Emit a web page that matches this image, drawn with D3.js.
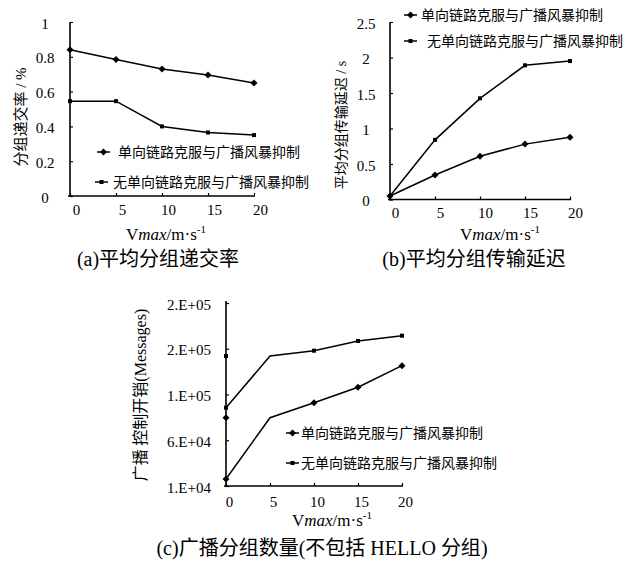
<!DOCTYPE html>
<html><head><meta charset="utf-8">
<script src="https://cdn.jsdelivr.net/npm/d3@7/dist/d3.min.js"></script>
<style>
body{margin:0;background:#fff;}
text{fill:#000;}
</style></head>
<body><svg id="c" width="634" height="565"></svg>
<script>
// ---- data ----
const xVals = [0, 5, 10, 15, 20];
const xTickLabels = ["0", "5", "10", "15", "20"];
const seriesNames = ["单向链路克服与广播风暴抑制", "无单向链路克服与广播风暴抑制"];

// (a) average packet delivery rate
const rateUni = [0.84, 0.785, 0.73, 0.695, 0.65];
const rateNoUni = [0.545, 0.545, 0.40, 0.365, 0.35];
const rateTicks = [0, 0.2, 0.4, 0.6, 0.8, 1];
const rateTickLabels = ["0", "0.2", "0.4", "0.6", "0.8", "1"];

// (b) average packet transmission delay
const delayUni = [0.05, 0.345, 0.61, 0.78, 0.876];
const delayNoUni = [0.05, 0.84, 1.425, 1.89, 1.95];
const delayTicks = [0, 0.5, 1, 1.5, 2, 2.5];
const delayTickLabels = ["0", "0.5", "1", "1.5", "2", "2.5"];

// (c) broadcast packet count
const bcastUni = [17600, 84600, 101000, 117900, 141500];
const bcastNoUni = [95600, 152000, 157900, 168500, 174300];
const bcastMarkerX = [0, 0, 10, 15, 20]; // marker x positions as drawn in the original
const bcastTicks = [10000, 60000, 110000, 160000, 210000];
const bcastTickLabels = ["1.E+04", "6.E+04", "1.E+05", "2.E+05", "2.E+05"];

const SERIF = '"Liberation Serif","Times New Roman","DejaVu Serif","Noto Sans CJK SC",serif';
const CJK = '"Noto Sans CJK SC","Liberation Sans",sans-serif';

const svg = d3.select("#c");

function drawChart(cfg) {
  const x = d3.scaleLinear().domain([0, 20]).range(cfg.xr);
  const y = d3.scaleLinear().domain(cfg.yd).range(cfg.yr);
  const g = svg.append("g");

  // y axis
  const ya = d3.axisLeft(y).tickValues(cfg.yTicks).tickSize(-3).tickSizeOuter(0)
    .tickFormat((d, i) => cfg.yTickLabels[i]);
  const yg = g.append("g").attr("transform", `translate(${cfg.xr[0]},0)`).call(ya);
  yg.attr("font-family", null).attr("font-size", null);
  yg.select(".domain").attr("stroke-width", 1.6).attr("d", `M0,${cfg.yTop}V${cfg.yr[0] + 1}`);
  yg.selectAll(".tick line").attr("stroke-width", 1.2);
  yg.selectAll(".tick text").attr("x", cfg.yLabelX - cfg.xr[0]).attr("text-anchor", "middle")
    .attr("dy", "0.4em").style("font-size", "15px").style("font-family", SERIF);

  // x axis
  const xa = d3.axisBottom(x).tickValues(xVals).tickSize(-3).tickSizeOuter(0)
    .tickFormat((d, i) => xTickLabels[i]);
  const xg = g.append("g").attr("transform", `translate(0,${cfg.yr[0]})`).call(xa);
  xg.attr("font-family", null).attr("font-size", null);
  xg.select(".domain").attr("stroke-width", 1.6).attr("d", `M${cfg.xr[0] - 2},0H${cfg.xr[1] + 1}`);
  xg.selectAll(".tick line").attr("stroke-width", 1.2);
  xg.selectAll(".tick text").attr("x", cfg.xLabelDx).attr("y", cfg.xLabelDy).attr("dy", null)
    .style("font-size", "15px").style("font-family", SERIF);
  g.selectAll(".tick text").attr("fill", "#000");
  g.selectAll(".domain,.tick line").attr("stroke", "#000");

  // lines
  const line = d3.line().x((d, i) => x(xVals[i])).y(d => y(d));
  cfg.series.forEach(s => {
    g.append("path").datum(s.values).attr("d", line).attr("fill", "none")
      .attr("stroke", "#000").attr("stroke-width", 1.5);
    const mx = s.markerX || xVals;
    s.values.forEach((v, i) => {
      drawMarker(g, x(mx[i]), y(v), s.marker);
    });
  });

  // legend
  cfg.legend.forEach((L, i) => {
    g.append("line").attr("x1", L.x0).attr("x2", L.x0 + 13).attr("y1", L.y).attr("y2", L.y)
      .attr("stroke", "#000").attr("stroke-width", 1.5);
    drawMarker(g, L.x0 + 6.5, L.y, i === 0 ? "diamond" : "square");
    g.append("text").attr("x", L.tx).attr("y", L.y + 5)
      .style("font-family", CJK).style("font-size", "14px").text(seriesNames[i]);
  });

  // y label
  const yl = g.append("text").attr("transform", `translate(${cfg.ylab.x},${cfg.ylab.y}) rotate(-90)`)
    .attr("text-anchor", "middle").style("font-size", cfg.ylab.size + "px").style("font-family", SERIF);
  cfg.ylab.parts.forEach(p => yl.append("tspan").style("font-family", p[1] ? CJK : SERIF).text(p[0]));

  // x label
  const xl = g.append("text").attr("x", cfg.xlab.x).attr("y", cfg.xlab.y).attr("text-anchor", "middle")
    .style("font-size", "17px").style("font-family", SERIF);
  xl.append("tspan").text("V");
  xl.append("tspan").style("font-style", "italic").text("max");
  xl.append("tspan").text("/m·s");
  xl.append("tspan").attr("dy", -7).style("font-size", "11px").text("-1");

  // title
  const t = g.append("text").attr("x", cfg.title.x).attr("y", cfg.title.y).attr("text-anchor", "middle")
    .style("font-size", "20px").style("font-family", SERIF);
  cfg.title.parts.forEach(p => t.append("tspan").style("font-family", p[1] ? CJK : SERIF).text(p[0]));
}

function drawMarker(g, cx, cy, type) {
  if (type === "diamond") {
    g.append("path").attr("d", `M${cx},${cy - 3.5}L${cx + 3.5},${cy}L${cx},${cy + 3.5}L${cx - 3.5},${cy}Z`)
      .attr("fill", "#000");
  } else {
    g.append("rect").attr("x", cx - 2).attr("y", cy - 2).attr("width", 4).attr("height", 4).attr("fill", "#000");
  }
}

drawChart({
  xr: [70, 254], yd: [0, 1], yr: [196, 22], yTop: 22,
  yTicks: rateTicks, yTickLabels: rateTickLabels, yLabelX: 45,
  xLabelDx: 6, xLabelDy: 19,
  series: [{values: rateUni, marker: "diamond"}, {values: rateNoUni, marker: "square"}],
  legend: [{x0: 97, tx: 118, y: 152}, {x0: 95, tx: 113, y: 182}],
  ylab: {x: 26, y: 117, size: 15, parts: [["分组递交率", true], [" / %", false]]},
  xlab: {x: 166, y: 240},
  title: {x: 158, y: 266, parts: [["(a)", false], ["平均分组递交率", true]]}
});

drawChart({
  xr: [390, 570], yd: [0, 2.5], yr: [199.5, 22], yTop: 22,
  yTicks: delayTicks, yTickLabels: delayTickLabels, yLabelX: 366,
  xLabelDx: 5, xLabelDy: 18,
  series: [{values: delayUni, marker: "diamond"}, {values: delayNoUni, marker: "square"}],
  legend: [{x0: 404, tx: 421, y: 15}, {x0: 404, tx: 427, y: 41}],
  ylab: {x: 346, y: 125, size: 14, parts: [["平均分组传输延迟", true], [" / s", false]]},
  xlab: {x: 500, y: 240},
  title: {x: 474, y: 266, parts: [["(b)", false], ["平均分组传输延迟", true]]}
});

drawChart({
  xr: [226, 402], yd: [10000, 210000], yr: [486, 303], yTop: 301,
  yTicks: bcastTicks, yTickLabels: bcastTickLabels, yLabelX: 189,
  xLabelDx: 3, xLabelDy: 21,
  series: [{values: bcastUni, marker: "diamond", markerX: bcastMarkerX},
           {values: bcastNoUni, marker: "square", markerX: bcastMarkerX}],
  legend: [{x0: 286, tx: 301, y: 433}, {x0: 286, tx: 301, y: 463}],
  ylab: {x: 146, y: 395, size: 16, parts: [["广播 控制开销", true], ["(Messages)", false]]},
  xlab: {x: 332, y: 526},
  title: {x: 322, y: 555, parts: [["(c)", false], ["广播分组数量", true], ["(", false], ["不包括", true], [" HELLO ", false], ["分组", true], [")", false]]}
});
</script></body></html>
